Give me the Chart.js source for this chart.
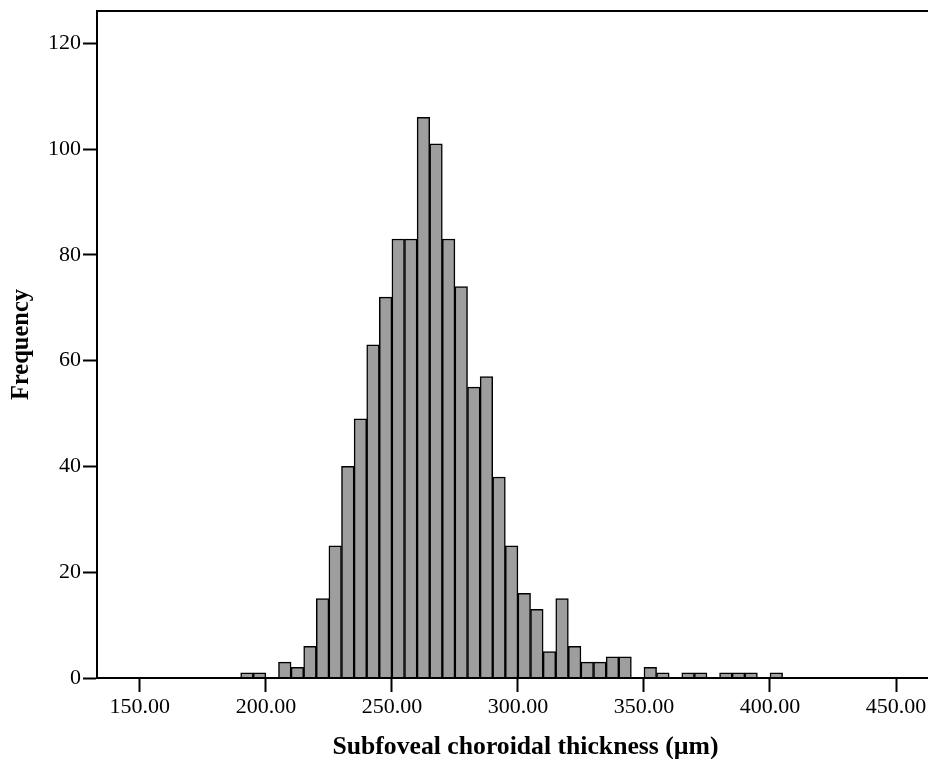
<!DOCTYPE html>
<html>
<head>
<meta charset="utf-8">
<script src="https://cdn.jsdelivr.net/npm/chart.js@4.4.1/dist/chart.umd.min.js"></script>
<style>
  html, body { margin: 0; padding: 0; background: #ffffff; overflow: hidden; }
  #wrap { width: 928px; height: 759px; overflow: hidden; position: relative; }
  canvas { display: block; }
</style>
</head>
<body>
<div id="wrap"><canvas id="c" width="954" height="759"></canvas></div>
<script>
// Histogram bins (lower edge, µm) and frequencies
const binStarts = [190,195,200,205,210,215,220,225,230,235,240,245,250,255,260,265,270,275,280,285,290,295,300,305,310,315,320,325,330,335,340,345,350,355,360,365,370,375,380,385,390,395,400];
const counts    = [  1,  1,  0,  3,  2,  6, 15, 25, 40, 49, 63, 72, 83, 83,106,101, 83, 74, 55, 57, 38, 25, 16, 13,  5, 15,  6,  3,  3,  4,  4,  0,  2,  1,  0,  1,  1,  0,  1,  1,  1,  0,  1];
const binWidth = 5;
const xTicks = [150, 200, 250, 300, 350, 400, 450];
const yTicks = [0, 20, 40, 60, 80, 100, 120];
const xTitle = 'Subfoveal choroidal thickness (\u00b5m)';
const yTitle = 'Frequency';

const points = binStarts.map((s, i) => ({ x: s + binWidth / 2, y: counts[i] }));

const frame = {
  id: 'frame',
  afterDatasetsDraw(chart) {
    const a = chart.chartArea, ctx = chart.ctx;
    ctx.save();
    ctx.strokeStyle = '#000';
    ctx.lineWidth = 2;
    ctx.strokeRect(a.left, a.top, a.right - a.left, a.bottom - a.top);
    ctx.restore();
  }
};

const FONT = "'Liberation Serif', 'Times New Roman', serif";

new Chart(document.getElementById('c'), {
  type: 'bar',
  data: {
    datasets: [{
      data: points,
      backgroundColor: '#9e9e9e',
      borderColor: '#000000',
      borderWidth: 1.5,
      barPercentage: 1,
      categoryPercentage: 1
    }]
  },
  options: {
    responsive: false,
    animation: false,
    layout: { padding: { top: 11, left: 0, right: 0, bottom: 0 } },
    plugins: { legend: { display: false }, tooltip: { enabled: false } },
    scales: {
      x: {
        type: 'linear',
        min: 133, max: 473,
        offset: false,
        afterFit(s) { s.height = 81; s.paddingLeft = 0; s.paddingRight = 0; },
        afterBuildTicks(s) { s.ticks = xTicks.map(v => ({ value: v })); },
        grid: { offset: false, drawOnChartArea: false, drawTicks: true, tickLength: 14, tickColor: '#000', tickWidth: 2 },
        border: { display: true, color: '#000', width: 2 },
        ticks: {
          color: '#000', padding: 2, maxRotation: 0, autoSkip: false,
          font: { family: FONT, size: 22 },
          callback: v => v.toFixed(2)
        },
        title: {
          display: true, text: xTitle, color: '#000',
          font: { family: FONT, size: 25.7, weight: 'bold', lineHeight: 0.9 },
          padding: { top: 0, bottom: 0 }
        }
      },
      y: {
        min: 0, max: 126.1,
        afterFit(s) { s.width = 97; s.paddingTop = 0; s.paddingBottom = 0; },
        afterBuildTicks(s) { s.ticks = yTicks.map(v => ({ value: v })); },
        grid: { drawOnChartArea: false, drawTicks: true, tickLength: 14, tickColor: '#000', tickWidth: 2 },
        border: { display: true, color: '#000', width: 2 },
        ticks: {
          color: '#000', padding: 2,
          font: { family: FONT, size: 22 }
        },
        title: {
          display: true, text: yTitle, color: '#000',
          font: { family: FONT, size: 24.5, weight: 'bold' },
          padding: { top: 7, bottom: 0 }
        }
      }
    }
  },
  plugins: [frame]
});
</script>
</body>
</html>
